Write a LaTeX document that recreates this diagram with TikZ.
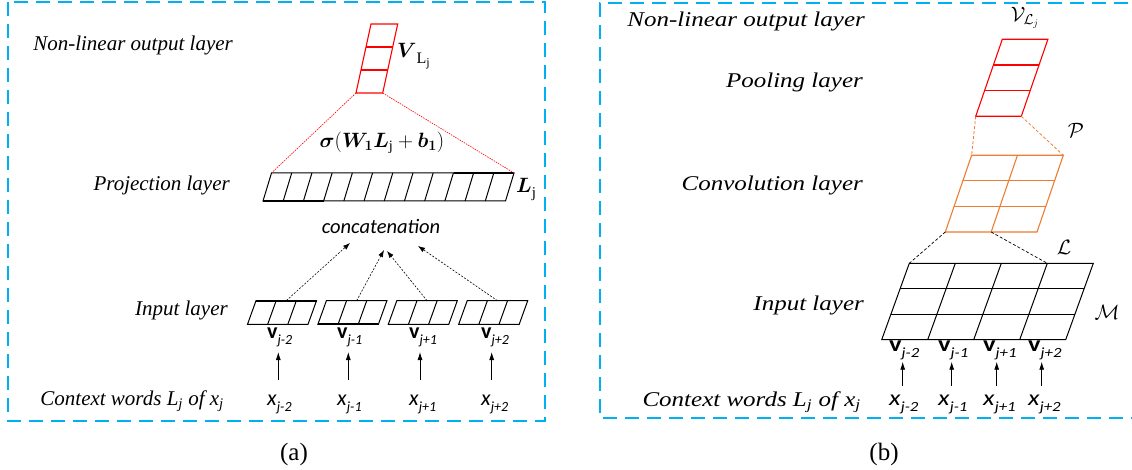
\documentclass[tikz,border=0pt]{standalone}
\usepackage{fontspec}
\setmainfont{Liberation Serif}
\newfontfamily\calib{Carlito}
\usepackage{amsmath,bm}
\usepackage{graphicx}
\usetikzlibrary{arrows.meta}
\definecolor{boxblue}{RGB}{0,176,240}
\definecolor{convorange}{RGB}{237,125,49}
% parallelogram grid: #1,#2 bottom-left; #3 width; #4 height; #5 slant; #6 cols; #7 rows; #8 style
\newcommand\pgrid[8]{%
  \draw[#8] (#1,#2) -- ++(#3,0) -- ++(#5,-#4) -- ++(-#3,0) -- cycle;
  \pgfmathtruncatemacro\pgnc{#6-1}%
  \pgfmathtruncatemacro\pgnr{#7-1}%
  \ifnum\pgnc>0
    \foreach \i in {1,...,\pgnc}{\draw[#8] ({#1+\i*#3/#6},#2) -- ++(#5,-#4);}
  \fi
  \ifnum\pgnr>0
    \foreach \j in {1,...,\pgnr}{\draw[#8] ({#1+\j*#5/#7},{#2-\j*#4/#7}) -- ++(#3,0);}
  \fi
}
\newcommand\sbs[1]{\raisebox{-6pt}{\fontsize{14}{15}\selectfont\itshape #1}}
\newcommand\vlab[1]{\textbf{v}\sbs{#1}}
\newcommand\xlab[1]{\textit{x}\sbs{#1}}
\tikzset{
  lab/.style={font=\fontsize{21}{25}\selectfont\itshape, inner sep=0pt, anchor=base east},
  labb/.style={font=\fontsize{21}{25}\selectfont\itshape, inner sep=0pt, anchor=base east},
  sans/.style={font=\calib\fontsize{22}{26}\selectfont, inner sep=0pt, anchor=base west},
  mathlab/.style={font=\fontsize{20}{24}\selectfont, inner sep=0pt},
  panel/.style={draw=boxblue, line width=2.5pt, dash pattern=on 14pt off 8pt},
  cellblack/.style={draw=black, line width=1pt},
  cellred/.style={draw=red, line width=1.1pt},
  cellorange/.style={draw=convorange, line width=1.1pt},
  reddot/.style={draw=red, line width=0.6pt, dash pattern=on 1.5pt off 1pt},
  orangedash/.style={draw=convorange, line width=0.8pt, dash pattern=on 3pt off 2pt},
  blackdash/.style={draw=black, line width=0.7pt, dash pattern=on 3pt off 2pt},
  dotarrow/.style={draw=black, line width=0.6pt, dash pattern=on 2pt off 1.5pt, -{Latex[length=7pt,width=5pt]}},
  uparrow/.style={draw=black, line width=0.8pt, -{Latex[length=8pt,width=5pt]}},
  thick edge/.style={line width=2.2pt},
}
\begin{document}
\begin{tikzpicture}[x=1pt,y=-1pt]
\useasboundingbox (0,0) rectangle (1132,470);
% ---------------- panel (a) ----------------
\draw[panel] (8,2) rectangle (545,421);
\node[lab] (a1) at (233,51) {Non-linear output layer};
\node[lab] (a2) at (230,191) {Projection layer};
\node[lab] (a3) at (228,316) {Input layer};
\node[lab] (a4) at (224,405) {Context words L\textsubscript{j} of x\textsubscript{j}};
% output vector
\pgrid{356}{93}{26.7}{69}{15}{1}{3}{cellred}
\coordinate (oBL) at (356,93);
\coordinate (oBR) at (382.7,93);
\node[mathlab, anchor=west] (VL) at (397,56) {$\bm{V}$\raisebox{-6pt}{\fontsize{16}{17}\selectfont L\raisebox{-3pt}{\fontsize{12}{13}\selectfont j}}};
% projection bar
\pgrid{263}{201}{242.5}{28}{8.5}{12}{1}{cellblack}
\draw[thick edge] (453.5,173) -- (514,173);
\draw[thick edge] (263,201) -- (323.6,201);
\coordinate (pTL) at (271.5,173);
\coordinate (pTR) at (514,173);
\node[mathlab, anchor=west] (Lj) at (516,189) {$\bm{L}$\raisebox{-5pt}{\fontsize{15}{16}\selectfont j}};
\draw[reddot] (oBL) -- (pTL);
\draw[reddot] (oBR) -- (pTR);
\node[mathlab, font=\fontsize{20.5}{24}\selectfont] (sig) at (382,143) {$\bm{\sigma}(\bm{W}_{\bm{1}}\bm{L}_{\mathrm{j}}+\bm{b}_{\bm{1}})$};
\node[inner sep=0pt, font=\calib\fontsize{20.5}{24}\selectfont\itshape] (cc) at (381,226) {concatenation};
% input vectors
\foreach \k in {0,1,2,3}{
  \pgfmathsetmacro\xo{247.5+70.4*\k}
  \pgrid{\xo}{324.3}{60.5}{23.6}{8.5}{3}{1}{cellblack}
  \coordinate (vt\k) at ({\xo+38.75},300.7);
}
\draw[thick edge] (256,300.7) -- (316.5,300.7);
\draw[thick edge] (317.9,324.3) -- (378.4,324.3);
\coordinate (h0) at (350,243);
\coordinate (h1) at (384,250);
\coordinate (h2) at (387,251);
\coordinate (h3) at (418,246);
\foreach \k in {0,1,2,3}{\draw[dotarrow] (vt\k) -- (h\k);}
% labels and arrows (a)
\node[sans] (va0) at (267,338) {\vlab{j-2}};
\node[sans] (va1) at (337,338) {\vlab{j-1}};
\node[sans] (va2) at (409,338) {\vlab{j+1}};
\node[sans] (va3) at (481,338) {\vlab{j+2}};
\node[sans] (xa0) at (267,405) {\xlab{j-2}};
\node[sans] (xa1) at (337,405) {\xlab{j-1}};
\node[sans] (xa2) at (409,405) {\xlab{j+1}};
\node[sans] (xa3) at (481,405) {\xlab{j+2}};
\foreach \k/\xx in {0/278.3,1/348.3,2/420,3/491.7}{
  \coordinate (as\k) at (\xx,380);
  \coordinate (ae\k) at (\xx,352);
  \draw[uparrow] (as\k) -- (ae\k);
}
\node[font=\fontsize{25}{30}\selectfont, inner sep=0pt, anchor=base] (capa) at (294,460) {(a)};
% ---------------- panel (b) ----------------
\draw[panel] (1150,3) -- (600,3) -- (600,418) -- (1150,418);
\node[labb] (b1) at (865,27) {\scalebox{1.19}[1]{Non-linear output layer}};
\node[labb] (b2) at (863,88) {\scalebox{1.19}[1]{Pooling layer}};
\node[labb] (b3) at (863,191) {\scalebox{1.19}[1]{Convolution layer}};
\node[labb] (b4) at (864,310) {\scalebox{1.19}[1]{Input layer}};
\node[labb] (b5) at (861,406) {\scalebox{1.19}[1]{Context words L\textsubscript{j} of x\textsubscript{j}}};
% pooling vector
\pgrid{975.7}{116.3}{45.6}{77}{26.6}{1}{3}{cellred}
\coordinate (rBL) at (975.7,116.3);
\coordinate (rBR) at (1021.3,116.3);
\node[mathlab] (VLb) at (1025,18) {$\mathcal{V}_{\mathcal{L}_j}$};
% convolution grid
\pgrid{945.3}{232}{91.7}{76.7}{26.3}{2}{3}{cellorange}
\coordinate (cTL) at (971.6,155.3);
\coordinate (cTR) at (1063.3,155.3);
\coordinate (cBL) at (945.3,232);
\coordinate (cBM) at (991.15,232);
\node[mathlab, font=\fontsize{22}{26}\selectfont] (Pl) at (1076,130) {$\mathcal{P}$};
\draw[orangedash] (rBL) -- (cTL);
\draw[orangedash] (rBR) -- (cTR);
% input grid
\pgrid{881.7}{339.7}{184}{76.4}{27.6}{4}{3}{cellblack}
\coordinate (gTL) at (909.3,263.3);
\coordinate (gT3) at (1047.3,263.3);
\draw[blackdash] (cBL) -- (gTL);
\draw[blackdash] (cBM) -- (gT3);
\node[mathlab, font=\fontsize{22}{26}\selectfont] (Ll) at (1064,247) {$\mathcal{L}$};
\node[mathlab, font=\fontsize{22}{26}\selectfont] (Ml) at (1107,312) {$\mathcal{M}$};
% labels and arrows (b)
\node[sans] (vb0) at (889,351.5) {\scalebox{1.2}[1]{\vlab{j-2}}};
\node[sans] (vb1) at (938,351.5) {\scalebox{1.2}[1]{\vlab{j-1}}};
\node[sans] (vb2) at (983,351.5) {\scalebox{1.2}[1]{\vlab{j+1}}};
\node[sans] (vb3) at (1028,351.5) {\scalebox{1.2}[1]{\vlab{j+2}}};
\node[sans] (xb0) at (889,405) {\scalebox{1.2}[1]{\xlab{j-2}}};
\node[sans] (xb1) at (938,405) {\scalebox{1.2}[1]{\xlab{j-1}}};
\node[sans] (xb2) at (983,405) {\scalebox{1.2}[1]{\xlab{j+1}}};
\node[sans] (xb3) at (1028,405) {\scalebox{1.2}[1]{\xlab{j+2}}};
\foreach \k/\xx in {0/902.7,1/951.7,2/996.7,3/1041.7}{
  \coordinate (bs\k) at (\xx,385.7);
  \coordinate (be\k) at (\xx,361.7);
  \draw[uparrow] (bs\k) -- (be\k);
}
\node[font=\fontsize{25}{30}\selectfont, inner sep=0pt, anchor=base] (capb) at (884,460) {(b)};
\end{tikzpicture}
\end{document}
